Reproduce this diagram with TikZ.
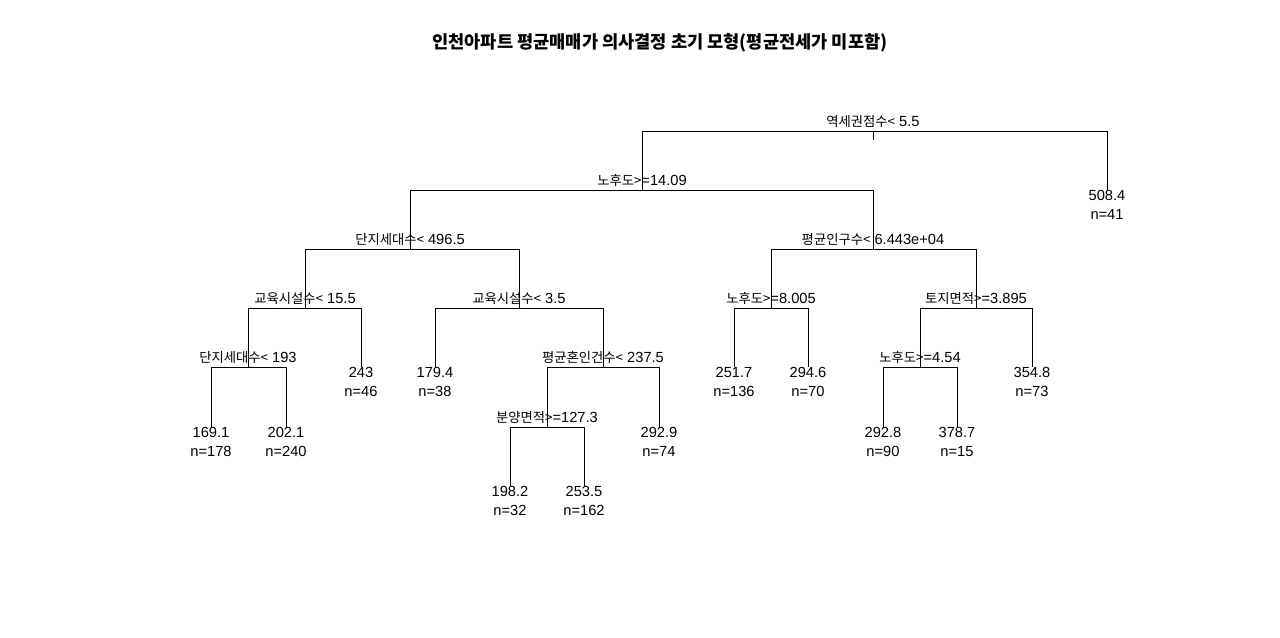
\documentclass[tikz,border=0pt]{standalone}
\usepackage{fontspec}
\setmainfont{Liberation Sans}
\newfontfamily\krfont{Noto Sans CJK KR}
\newcommand\kor[1]{{\krfont\fontsize{10}{11}\selectfont #1}}
\begin{document}
\begin{tikzpicture}[x=0.75pt,y=-0.75pt]
\useasboundingbox[fill=white] (0,0) rectangle (1280,637);
\tikzset{
  edge/.style={draw=black, line width=0.75pt},
  split/.style={anchor=base, inner sep=0pt, font=\fontsize{11}{12}\selectfont},
  leafv/.style={anchor=base, inner sep=0pt, font=\fontsize{11}{12}\selectfont},
}
% title
\node[anchor=base, inner sep=0pt, font=\krfont\bfseries\fontsize{13.2}{15}\selectfont] (title) at (660,48) {인천아파트 평균매매가 의사결정 초기 모형(평균전세가 미포함)};
% tree coordinates
\coordinate (n1) at (873,131);
\coordinate (n2) at (642,190);
\coordinate (n3) at (1107,190);
\coordinate (n4) at (410,249);
\coordinate (n5) at (873,249);
\coordinate (n8) at (305,308);
\coordinate (n9) at (519,308);
\coordinate (n10) at (771,308);
\coordinate (n11) at (976,308);
\coordinate (n16) at (248,367);
\coordinate (n17) at (361,367);
\coordinate (n18) at (435,367);
\coordinate (n19) at (603,367);
\coordinate (n20) at (734,367);
\coordinate (n21) at (808,367);
\coordinate (n22) at (920,367);
\coordinate (n23) at (1032,367);
\coordinate (n32) at (211,427);
\coordinate (n33) at (286,427);
\coordinate (n38) at (547,427);
\coordinate (n39) at (659,427);
\coordinate (n44) at (883,427);
\coordinate (n45) at (957,427);
\coordinate (n76) at (510,486);
\coordinate (n77) at (584,486);
\coordinate (tick) at (873,140);
% edges
\draw[edge] (n1) -- (tick);
\draw[edge] (n1) -| (n2);
\draw[edge] (n1) -| (n3);
\draw[edge] (n2) -| (n4);
\draw[edge] (n2) -| (n5);
\draw[edge] (n4) -| (n8);
\draw[edge] (n4) -| (n9);
\draw[edge] (n5) -| (n10);
\draw[edge] (n5) -| (n11);
\draw[edge] (n8) -| (n16);
\draw[edge] (n8) -| (n17);
\draw[edge] (n9) -| (n18);
\draw[edge] (n9) -| (n19);
\draw[edge] (n10) -| (n20);
\draw[edge] (n10) -| (n21);
\draw[edge] (n11) -| (n22);
\draw[edge] (n11) -| (n23);
\draw[edge] (n16) -| (n32);
\draw[edge] (n16) -| (n33);
\draw[edge] (n19) -| (n38);
\draw[edge] (n19) -| (n39);
\draw[edge] (n22) -| (n44);
\draw[edge] (n22) -| (n45);
\draw[edge] (n38) -| (n76);
\draw[edge] (n38) -| (n77);
% split labels
\node[split] (s1) at (873,126) {\kor{역세권점수<} 5.5};
\node[split] (s2) at (642,185) {\kor{노후도>}=14.09};
\node[split] (s4) at (410,244) {\kor{단지세대수<} 496.5};
\node[split] (s5) at (873,244) {\kor{평균인구수<} 6.443e+04};
\node[split] (s8) at (305,303) {\kor{교육시설수<} 15.5};
\node[split] (s9) at (519,303) {\kor{교육시설수<} 3.5};
\node[split] (s10) at (771,303) {\kor{노후도>}=8.005};
\node[split] (s11) at (976,303) {\kor{토지면적>}=3.895};
\node[split] (s16) at (248,362) {\kor{단지세대수<} 193};
\node[split] (s19) at (603,362) {\kor{평균혼인건수<} 237.5};
\node[split] (s22) at (920,362) {\kor{노후도>}=4.54};
\node[split] (s38) at (547,422) {\kor{분양면적>}=127.3};
% leaves
\node[leafv] (v3) at (1107,200) {508.4};
\node[leafv] (c3) at (1107,219) {n=41};
\node[leafv] (v17) at (361,377) {243};
\node[leafv] (c17) at (361,396) {n=46};
\node[leafv] (v18) at (435,377) {179.4};
\node[leafv] (c18) at (435,396) {n=38};
\node[leafv] (v20) at (734,377) {251.7};
\node[leafv] (c20) at (734,396) {n=136};
\node[leafv] (v21) at (808,377) {294.6};
\node[leafv] (c21) at (808,396) {n=70};
\node[leafv] (v23) at (1032,377) {354.8};
\node[leafv] (c23) at (1032,396) {n=73};
\node[leafv] (v32) at (211,437) {169.1};
\node[leafv] (c32) at (211,456) {n=178};
\node[leafv] (v33) at (286,437) {202.1};
\node[leafv] (c33) at (286,456) {n=240};
\node[leafv] (v39) at (659,437) {292.9};
\node[leafv] (c39) at (659,456) {n=74};
\node[leafv] (v44) at (883,437) {292.8};
\node[leafv] (c44) at (883,456) {n=90};
\node[leafv] (v45) at (957,437) {378.7};
\node[leafv] (c45) at (957,456) {n=15};
\node[leafv] (v76) at (510,496) {198.2};
\node[leafv] (c76) at (510,515) {n=32};
\node[leafv] (v77) at (584,496) {253.5};
\node[leafv] (c77) at (584,515) {n=162};
\end{tikzpicture}
\end{document}
